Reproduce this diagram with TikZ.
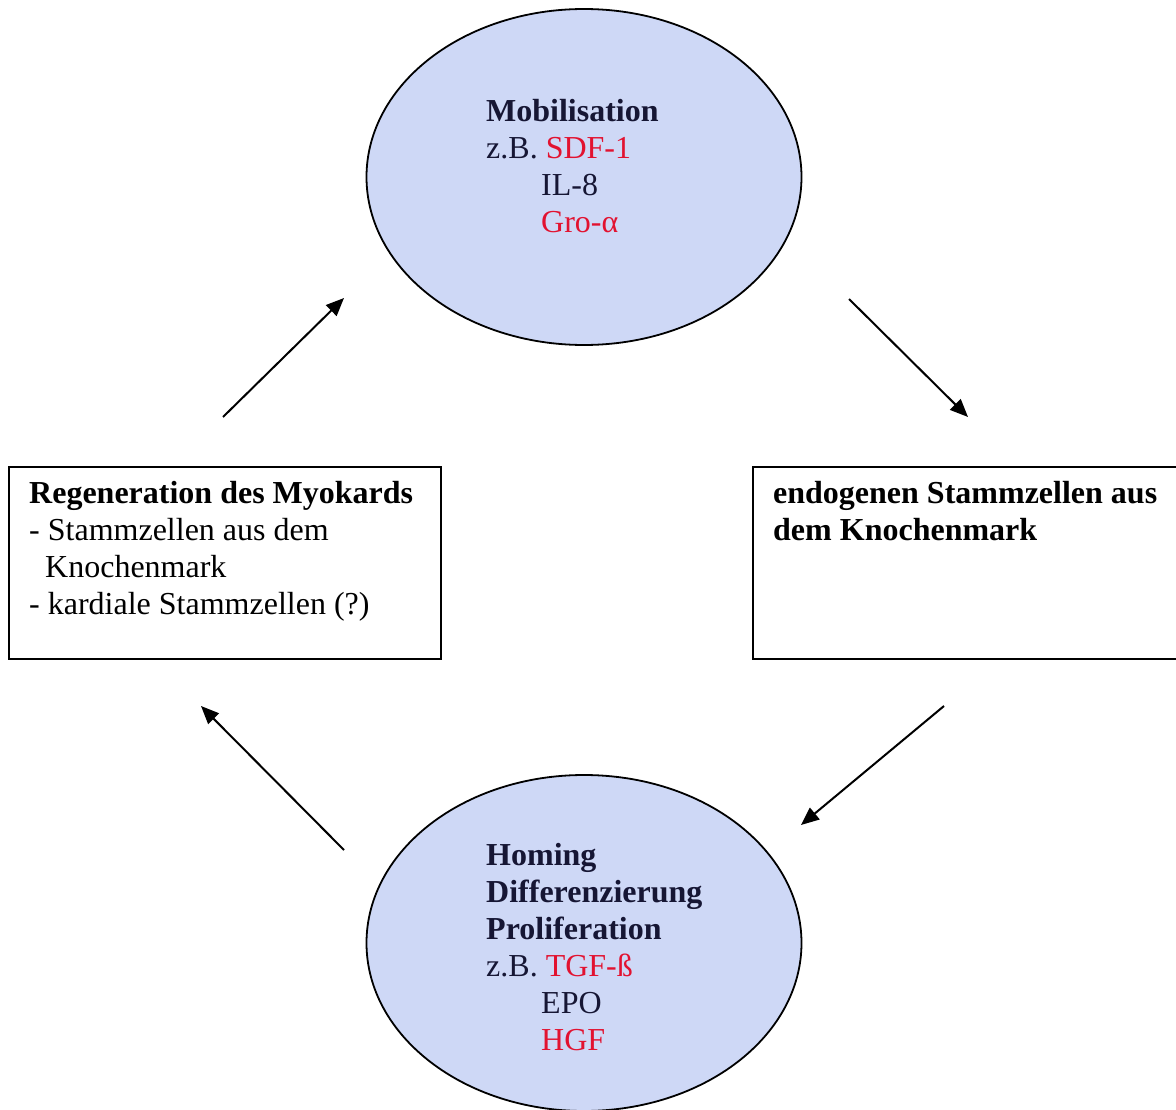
\documentclass[tikz,border=0pt]{standalone}
\usepackage{fontspec}
\setmainfont{Liberation Serif}
\usetikzlibrary{shapes.geometric,arrows.meta}
\definecolor{cellfill}{RGB}{206,216,246}
\definecolor{ink}{RGB}{22,22,52}
\definecolor{factor}{RGB}{226,18,48}
\newcommand{\cyctext}{\fontsize{32}{37}\selectfont}
\begin{document}
\begin{tikzpicture}[x=1pt,y=-1pt,
  phase/.style={ellipse,draw=black,line width=1.8pt,fill=cellfill,
    minimum width=435pt,minimum height=336pt,inner sep=0pt},
  stage/.style={rectangle,draw=black,line width=2pt,inner sep=0pt,anchor=north west,
    minimum height=192pt},
  label/.style={anchor=base west,inner sep=0pt,font=\cyctext},
  flow/.style={line width=2pt,-{Triangle[length=18pt,width=15pt]}}]
\clip (0,0) rectangle (1176,1110);
\fill[white] (0,0) rectangle (1176,1110);

% cycle stations
\node[phase] (mob) at (584,177) {};
\node[phase] (hom) at (584,943) {};
\node[stage,minimum width=432pt] (reg) at (8,466) {};
\node[stage,minimum width=450pt] (endo) at (752,466) {};

% texts
\node[label,text=ink] (mobtext) at (486,122) {\begin{tabular}[t]{@{}l@{}}
  \textbf{Mobilisation}\\
  z.B. \textcolor{factor}{SDF-1}\\
  \hspace*{55pt}IL-8\\
  \hspace*{55pt}\textcolor{factor}{Gro-α}
\end{tabular}};
\node[label,text=ink] (homtext) at (486,865) {\begin{tabular}[t]{@{}l@{}}
  \textbf{Homing}\\
  \textbf{Differenzierung}\\
  \textbf{Proliferation}\\
  z.B. \textcolor{factor}{TGF-ß}\\
  \hspace*{55pt}EPO\\
  \hspace*{55pt}\textcolor{factor}{HGF}
\end{tabular}};
\node[label] (regtext) at (29,503) {\begin{tabular}[t]{@{}l@{}}
  \textbf{Regeneration des Myokards}\\
  - Stammzellen aus dem\\
  \hspace*{16pt}Knochenmark\\
  - kardiale Stammzellen (?)
\end{tabular}};
\node[label] (endotext) at (773,503) {\begin{tabular}[t]{@{}l@{}}
  \textbf{endogenen Stammzellen aus}\\
  \textbf{dem Knochenmark}
\end{tabular}};

% arrow ends
\coordinate (r2m) at (223,417);
\coordinate (m2r) at (344,298);
\coordinate (m2e) at (849,299);
\coordinate (e2m) at (968,417);
\coordinate (e2h) at (944,706);
\coordinate (h2e) at (801,825);
\coordinate (h2r) at (344,850);
\coordinate (r2h) at (201,706);

\draw[flow] (r2m) -- (m2r);
\draw[flow] (m2e) -- (e2m);
\draw[flow] (e2h) -- (h2e);
\draw[flow] (h2r) -- (r2h);
\end{tikzpicture}
\end{document}
